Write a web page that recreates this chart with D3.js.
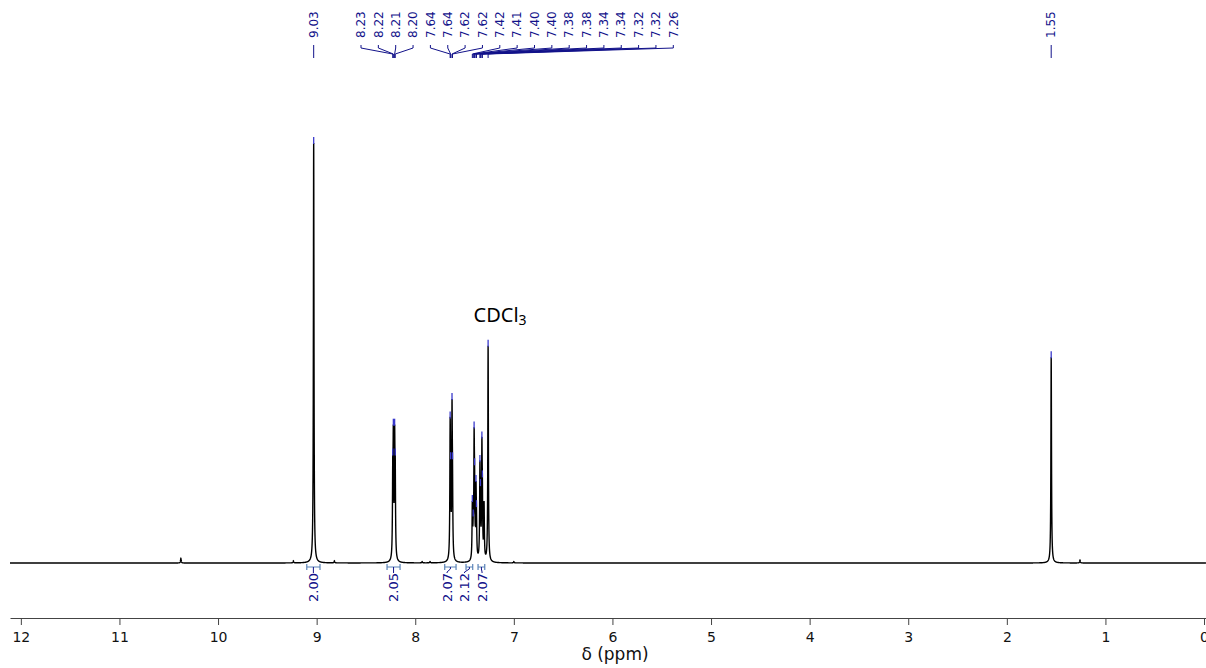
<!DOCTYPE html>
<html><head><meta charset="utf-8">
<script src="https://cdn.jsdelivr.net/npm/d3@7"></script>
<style>body{margin:0;background:#fff;} svg{display:block;}</style>
</head><body>
<svg id="c" width="1206" height="668"></svg>
<script>
// ---- data ----
// spectrum peaks: position (ppm) and height (% of the 9.03 signal)
const peakPpm    = [10.377, 9.236, 9.030, 8.820, 8.228, 8.222, 8.209, 8.203, 7.930, 7.850,
                    7.646, 7.641, 7.627, 7.622, 7.421, 7.412, 7.403, 7.398, 7.384, 7.379,
                    7.344, 7.339, 7.324, 7.319, 7.302, 7.261, 7.000, 1.550, 1.258];
const peakHeight = [1.1, 0.5, 100, 0.5, 18, 26, 26, 18, 0.3, 0.3,
                    29, 13, 33, 13, 12.5, 5, 26, 13, 15, 7,
                    19.5, 10, 24.5, 11, 13, 51.4, 0.3, 49, 0.7];
// picked peak labels
const pickText = ["9.03","8.23","8.22","8.21","8.20","7.64","7.64","7.62","7.62",
                  "7.42","7.41","7.40","7.40","7.38","7.38","7.34","7.34","7.32","7.32","7.26","1.55"];
const pickPpm  = [9.030, 8.228, 8.222, 8.209, 8.203, 7.646, 7.641, 7.627, 7.622,
                  7.421, 7.412, 7.403, 7.398, 7.384, 7.379, 7.344, 7.339, 7.324, 7.319, 7.261, 1.550];
// integrals
const integralFrom  = [9.100, 8.286, 7.701, 7.485, 7.363];
const integralTo    = [8.966, 8.154, 7.586, 7.417, 7.295];
const integralValue = ["2.00", "2.05", "2.07", "2.12", "2.07"];
// axis
const tickValues = [12, 11, 10, 9, 8, 7, 6, 5, 4, 3, 2, 1, 0];
const axisTitle = "δ (ppm)";
const solventName = "CDCl", solventSub = "3", solventPpm = 7.261;

// ---- layout / style ----
const svg = d3.select("#c");
const x = d3.scaleLinear().domain([12.11, -0.02]).range([10, 1206]);
const y = d3.scaleLinear().domain([0, 100]).range([563, 143]);
const gamma = 0.0035;
const labelBlue = "#12128a", markBlue = "#3a3acc", intBlue = "#5b84b8";
const fontMain = "'DejaVu Sans', Verdana, sans-serif";

function spec(p) {
  let s = 0;
  for (let i = 0; i < peakPpm.length; i++) {
    const d = (p - peakPpm[i]) / gamma;
    s += peakHeight[i] / (1 + d * d);
  }
  return s;
}

// spectrum line
const pts = [];
const [d0, d1] = x.domain();
const step = 0.0005;
for (let p = d0; p >= d1; p -= step) pts.push([p, spec(p)]);
svg.append("path")
  .attr("d", d3.line().x(d => x(d[0])).y(d => y(d[1]))(pts))
  .attr("fill", "none").attr("stroke", "#000").attr("stroke-width", 1.4);

// peak top markers
pickPpm.forEach(p => {
  const px = x(p), py = y(spec(p));
  svg.append("line").attr("x1", px).attr("x2", px).attr("y1", py - 6).attr("y2", py + 1)
    .attr("stroke", markBlue).attr("stroke-width", 1.3);
});

// peak label layout: singletons at their peak, the crowded group evenly spaced
const groupStart = 361, groupStep = 17.35;
const pickX = pickPpm.map(p => x(p));
const inGroup = pickPpm.map(p => p < 8.5 && p > 7);
let gi = 0;
const labelX = pickPpm.map((p, i) => inGroup[i] ? groupStart + groupStep * (gi++) : x(p));

const pl = svg.append("g");
pickText.forEach((t, i) => {
  const lx = labelX[i], px = pickX[i];
  pl.append("text").attr("transform", `translate(${lx},38) rotate(-90)`)
    .attr("dy", "0.35em").attr("text-anchor", "start")
    .attr("font-family", fontMain).attr("font-size", 12).attr("fill", labelBlue).text(t);
  const d = inGroup[i] ? `M${lx},45V48L${px},54V58` : `M${px},45V58`;
  pl.append("path").attr("d", d).attr("fill", "none").attr("stroke", labelBlue).attr("stroke-width", 1);
});

// integrals
const intCx = integralFrom.map((f, i) => (x(f) + x(integralTo[i])) / 2);
// label layout: resolve overlaps by centring crowded groups on their mean
const minGap = 17.5;
let groups = intCx.map((c, i) => ({ idx: [i], c: c }));
let changed = true;
while (changed) {
  changed = false;
  for (let k = 0; k < groups.length - 1; k++) {
    const a = groups[k], b = groups[k + 1];
    const aEnd = a.c + (a.idx.length - 1) * minGap / 2;
    const bStart = b.c - (b.idx.length - 1) * minGap / 2;
    if (bStart - aEnd < minGap) {
      const idx = a.idx.concat(b.idx);
      const c = d3.mean(idx, j => intCx[j]) - 2.5;
      groups.splice(k, 2, { idx, c });
      changed = true; break;
    }
  }
}
const intLabelX = [];
groups.forEach(g => g.idx.forEach((j, n) => {
  intLabelX[j] = g.c + (n - (g.idx.length - 1) / 2) * minGap;
}));

const ig = svg.append("g");
integralValue.forEach((v, i) => {
  const x1 = x(integralFrom[i]), x2 = x(integralTo[i]), cx = intCx[i], lx = intLabelX[i];
  ig.append("path").attr("d", `M${x1},564V570M${x1},567H${x2}M${x2},564V570`)
    .attr("fill", "none").attr("stroke", intBlue).attr("stroke-width", 1.2);
  const d = Math.abs(lx - cx) < 0.5 ? `M${cx},567V573` : `M${cx},567V569L${lx},572V573`;
  ig.append("path").attr("d", d).attr("fill", "none").attr("stroke", labelBlue).attr("stroke-width", 1);
  ig.append("text").attr("transform", `translate(${lx},573) rotate(-90)`)
    .attr("dy", "0.35em").attr("text-anchor", "end")
    .attr("font-family", fontMain).attr("font-size", 13).attr("fill", labelBlue).text(v);
});

// solvent label
const sl = svg.append("text").attr("x", x(solventPpm) + 12).attr("y", 322)
  .attr("text-anchor", "middle").attr("font-family", "'Noto Sans', 'Open Sans', sans-serif")
  .attr("font-size", 20).attr("fill", "#000");
sl.append("tspan").text(solventName);
sl.append("tspan").attr("font-size", 14).attr("dy", 3).text(solventSub);

// x axis
const ax = svg.append("g").attr("transform", "translate(0,618)")
  .call(d3.axisBottom(x).tickValues(tickValues).tickFormat(d3.format("d"))
    .tickSize(7).tickSizeOuter(0).tickPadding(7.5));
ax.select(".domain").attr("stroke", "#444");
ax.selectAll(".tick line").attr("stroke", "#444");
ax.selectAll(".tick text").attr("font-family", fontMain).attr("font-size", 14).attr("fill", "#111");

svg.append("text").attr("x", 615).attr("y", 660).attr("text-anchor", "middle")
  .attr("font-family", fontMain).attr("font-size", 17).attr("fill", "#111").text(axisTitle);
</script>
</body></html>
